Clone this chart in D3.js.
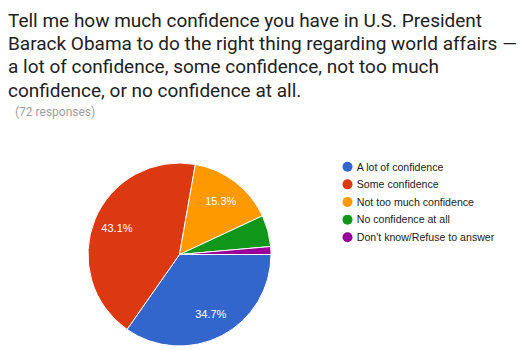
<!DOCTYPE html>
<html><head><meta charset="utf-8">
<script src="https://cdn.jsdelivr.net/npm/d3@7"></script>
<style>body{margin:0;background:#fff;}svg{display:block;}</style>
</head><body>
<svg id="c" width="528" height="350"></svg>
<script>
const titleLines = ["Tell me how much confidence you have in U.S. President",
  "Barack Obama to do the right thing regarding world affairs —",
  "a lot of confidence, some confidence, not too much",
  "confidence, or no confidence at all."];
const subtitle = "(72 responses)";
const categories = ["A lot of confidence","Some confidence","Not too much confidence","No confidence at all","Don't know/Refuse to answer"];
const counts = [25,31,11,4,1];
const colors = ["#3366cc","#dc3912","#ff9900","#109618","#990099"];

const svg = d3.select("#c");
const total = d3.sum(counts);
svg.append("g").selectAll("text").data(titleLines).join("text")
  .attr("x",8).attr("y",(d,i)=>27+i*23.2)
  .attr("font-family","Roboto").attr("font-size",19).attr("fill","#212121")
  .text(d=>d);
svg.append("text").attr("x",15).attr("y",116).attr("font-family","Roboto")
  .attr("font-size",12).attr("fill","#9e9e9e").text(subtitle);

const cx=179.5, cy=254.5, r=91.5;
const pie = d3.pie().sort(null).value(d=>d).startAngle(Math.PI/2).endAngle(Math.PI/2+2*Math.PI);
const arcs = pie(counts);
const arc = d3.arc().innerRadius(0).outerRadius(r);
const g = svg.append("g").attr("transform",`translate(${cx},${cy})`);
g.selectAll("path").data(arcs).join("path").attr("d",arc)
  .attr("fill",(d,i)=>colors[i]).attr("stroke","#fff").attr("stroke-width",1);
const labelArc = d3.arc().innerRadius(r*0.74).outerRadius(r*0.74);
g.selectAll("text").data(arcs.filter(d=>d.value/total>0.1)).join("text")
  .attr("transform",d=>`translate(${labelArc.centroid(d)})`)
  .attr("text-anchor","middle").attr("dy","0.35em")
  .attr("font-family","Arial, Liberation Sans").attr("font-size",11).attr("fill","#fff")
  .text(d=>(d.value/total*100).toFixed(1)+"%");

const leg = svg.append("g").selectAll("g").data(categories).join("g")
  .attr("transform",(d,i)=>`translate(347.5,${166.7+i*17.65})`);
leg.append("circle").attr("r",5).attr("fill",(d,i)=>colors[i]);
leg.append("text").attr("x",9.3).attr("dy","0.36em")
  .attr("font-family","Arial, Liberation Sans").attr("font-size",10.6).attr("fill","#222")
  .text(d=>d);
</script>
</body></html>
